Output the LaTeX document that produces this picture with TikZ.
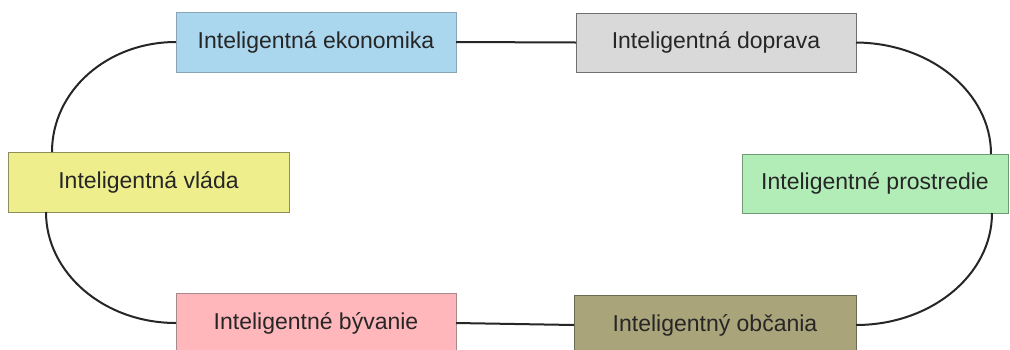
\documentclass[tikz,border=0pt]{standalone}
\usepackage{fontspec}
\setmainfont{Liberation Sans}
\definecolor{ekoF}{HTML}{AAD6EE}\definecolor{ekoD}{HTML}{8AA6B6}
\definecolor{dopF}{HTML}{D9D9D9}\definecolor{dopD}{HTML}{707070}
\definecolor{vlaF}{HTML}{EEEE8C}\definecolor{vlaD}{HTML}{8E8E5A}
\definecolor{proF}{HTML}{B2EDB8}\definecolor{proD}{HTML}{6E9A74}
\definecolor{byvF}{HTML}{FFB7BC}\definecolor{byvD}{HTML}{A88A8C}
\definecolor{obcF}{HTML}{A9A47A}\definecolor{obcD}{HTML}{6C6A52}
\definecolor{txt}{HTML}{262626}
\begin{document}
\begin{tikzpicture}[x=1pt,y=-1pt,
  box/.style={draw, line width=1pt, inner sep=0pt, outer sep=0pt,
    minimum width=280pt, minimum height=60pt, text=txt,
    font=\fontsize{23}{27}\selectfont},
  link/.style={line width=2pt, draw=black!85}]
\useasboundingbox (0,0) rectangle (1010,349);
\fill[white] (0,0) rectangle (1010,349);
\node[box, fill=ekoF, draw=ekoD] (eko) at (316,42) {Inteligentná ekonomika};
\node[box, fill=dopF, draw=dopD, minimum height=59pt] (dop) at (716,42.5) {Inteligentná doprava};
\node[box, fill=vlaF, draw=vlaD, minimum width=281pt] (vla) at (148.5,182) {Inteligentná vláda};
\node[box, fill=proF, draw=proD, minimum width=266pt, minimum height=59pt] (pro) at (875,183.5) {Inteligentné prostredie};
\node[box, fill=byvF, draw=byvD] (byv) at (316,323) {Inteligentné bývanie};
\node[box, fill=obcF, draw=obcD, minimum width=282pt] (obc) at (715,325) {Inteligentný občania};
\coordinate (vlaT) at ([xshift=44pt]vla.north west);
\coordinate (vlaB) at ([xshift=38pt]vla.south west);
\coordinate (proT) at ([xshift=-17pt]pro.north east);
\coordinate (proB) at ([xshift=-16pt]pro.south east);
\draw[link] (eko.east) -- (dop.west);
\draw[link] (byv.east) -- (obc.west);
\draw[link] (eko.west) .. controls (107,42) and (52,91) .. (vlaT);
\draw[link] (vlaB) .. controls (46,273) and (104,323) .. (byv.west);
\draw[link] (dop.east) .. controls (931,43) and (991,93) .. (proT);
\draw[link] (proB) .. controls (992,275) and (931,325) .. (obc.east);
\end{tikzpicture}
\end{document}
